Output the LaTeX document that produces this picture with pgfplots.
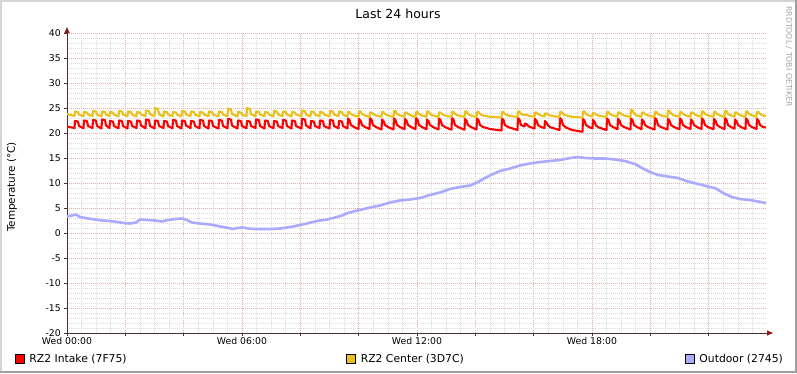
\documentclass[border=0pt]{standalone}
\usepackage{pgfplots}
\pgfplotsset{compat=1.18}
\usepackage{pgfplotstable}
\usepackage{fontspec}
\setmainfont{DejaVu Sans}
\usetikzlibrary{arrows.meta}
\definecolor{intake}{HTML}{FF0000}
\definecolor{centerc}{HTML}{EAC01C}
\definecolor{outdoor}{HTML}{AAAAFF}
\definecolor{mgrid}{HTML}{E6AFAF}
\definecolor{mingrid}{HTML}{DCDCDC}
\definecolor{axcol}{HTML}{4A3030}
\definecolor{arrowcol}{HTML}{8B1A1A}
\definecolor{frlight}{HTML}{D4D4D4}
\definecolor{frdark}{HTML}{9E9E9E}
\pgfplotstableread{
px intake center
67 21.3 23.8
74.5 21.0 23.4
75 22.4 24.3
78 22.3 24.2
79 21.4 23.7
83.5 20.95 23.35
84 22.5 24.2
87 22.4 24.1
88 21.4 23.7
92.5 21.0 23.35
93 22.6 24.4
96 22.5 24.3
97 21.4 23.7
101.5 20.9 23.3
102 22.7 24.3
105 22.6 24.2
106 21.5 23.7
109.5 21.0 23.35
110 22.4 24.2
113 22.3 24.1
114 21.4 23.7
118.5 20.95 23.3
119 22.5 24.4
122 22.4 24.3
123 21.4 23.7
127.5 20.9 23.35
128 22.4 24.3
131 22.3 24.2
132 21.4 23.7
136.5 21.0 23.3
137 22.5 24.2
140 22.4 24.1
141 21.5 23.7
145.5 20.95 23.35
146 22.7 24.5
149 22.6 24.4
150 21.4 23.8
154.5 20.9 23.35
155 22.5 25.0
158 22.4 24.8
159 21.4 23.8
163.5 21.0 23.3
164 22.4 24.3
167 22.3 24.2
168 21.4 23.7
172.5 20.95 23.35
173 22.6 24.2
176 22.5 24.1
177 21.4 23.7
181.5 20.9 23.3
182 22.5 24.4
185 22.4 24.3
186 21.5 23.7
190.5 21.0 23.35
191 22.4 24.3
194 22.3 24.2
195 21.4 23.7
199.5 20.95 23.3
200 22.6 24.2
203 22.5 24.1
204 21.4 23.7
208.5 20.9 23.35
209 22.5 24.3
212 22.4 24.2
213 21.4 23.7
218.5 20.9 23.3
219 22.6 24.3
222 22.5 24.2
223 21.4 23.7
227.5 20.95 23.35
228 22.8 24.9
231 22.7 24.7
232 21.5 23.8
237.5 20.9 23.3
238 22.5 24.2
241 22.4 24.1
242 21.4 23.7
246.5 20.95 23.35
247 22.4 25.0
250 22.3 24.8
251 21.4 23.8
255.5 21.0 23.3
256 22.7 24.3
259 22.6 24.2
260 21.4 23.7
264.5 20.9 23.35
265 22.5 24.2
268 22.4 24.1
269 21.4 23.7
273.5 20.95 23.3
274 22.4 24.4
277 22.3 24.3
278 21.4 23.7
282.5 21.0 23.35
283 22.6 24.3
286 22.5 24.2
287 21.4 23.7
291.5 20.9 23.3
292 22.5 24.2
295 22.4 24.1
296 21.4 23.7
301.5 20.9 23.35
302 22.8 24.5
305 22.7 24.4
306 21.5 23.7
310.5 20.95 23.3
311 22.4 24.3
314 22.3 24.2
315 21.4 23.7
319.5 21.0 23.35
320 22.5 24.2
323 22.4 24.1
324 21.4 23.7
329.5 20.9 23.3
330 22.6 24.4
333 22.5 24.3
334 21.4 23.7
338.5 20.95 23.35
339 22.4 24.3
342 22.3 24.2
343 21.4 23.7
347.5 20.9 23.3
348 22.9 24.2
349.5 22.6 24.2
351 21.6 23.8
354 21.2 23.5
358.5 20.8 23.25
359 22.8 24.3
360.5 22.5 24.3
362 21.6 23.8
365 21.2 23.5
369.5 20.8 23.2
370 23.0 24.1
371.5 22.7 24.1
373 21.6 23.8
376 21.2 23.5
381.5 20.7 23.25
382 22.7 24.2
383.5 22.4 24.2
385 21.6 23.8
388 21.2 23.5
393.5 20.7 23.2
394 22.9 24.4
395.5 22.6 24.4
397 21.6 23.8
400 21.2 23.5
404.5 20.75 23.25
405 22.8 24.1
406.5 22.5 24.1
408 21.6 23.8
411 21.2 23.5
415.5 20.75 23.2
416 23.0 24.2
417.5 22.7 24.2
419 21.6 23.8
422 21.2 23.5
426.5 20.75 23.25
427 22.7 24.3
428.5 22.4 24.3
430 21.6 23.8
433 21.2 23.5
438.5 20.7 23.2
439 22.9 24.1
440.5 22.6 24.1
442 21.6 23.8
445 21.2 23.5
451.5 20.65 23.2
452 23.0 24.2
453.5 22.7 24.2
455 21.6 23.8
458 21.2 23.5
464.5 20.65 23.2
465 22.8 24.3
466.5 22.5 24.3
468 21.6 23.8
471 21.2 23.5
476.5 20.7 23.2
477 22.9 24.2
478.5 22.6 24.2
480 21.6 23.8
483 21.2 23.5
490 20.8 23.25
501.5 20.5 23.1
502 22.9 24.2
503.5 22.6 24.2
505 21.6 23.8
508 21.2 23.5
517.5 20.6 23.2
518 23.0 24.3
519.5 22.7 24.3
521 21.6 23.8
524.5 21.3 23.6
525 21.9 23.7
527 21.7 23.6
529 21.3 23.4
534.5 20.9 23.25
535 22.8 24.1
536.5 22.5 24.1
538 21.6 23.8
541 21.2 23.5
544.5 21.0 23.3
545 22.4 23.9
546.5 22.1 23.9
548 21.5 23.7
551 21.1 23.45
559.5 20.6 23.2
560 23.0 24.2
561.5 22.7 24.2
563 21.6 23.8
566 21.1 23.5
572 20.6 23.25
582.5 20.25 23.1
583 22.8 24.3
584.5 22.5 24.3
586 21.6 23.8
589 21.2 23.5
592.5 20.9 23.3
593 22.6 24.0
594.5 22.3 24.0
596 21.5 23.7
599 21.1 23.45
606.5 20.6 23.2
607 22.9 24.2
608.5 22.6 24.2
610 21.6 23.8
613 21.2 23.5
617.5 20.75 23.25
618 22.8 24.1
619.5 22.5 24.1
621 21.6 23.8
624 21.2 23.5
630.5 20.7 23.2
631 22.9 24.6
632.5 22.6 24.5
634 21.6 23.9
637 21.2 23.5
641.5 20.75 23.25
642 22.7 24.1
643.5 22.4 24.1
645 21.6 23.8
648 21.2 23.5
654.5 20.7 23.2
655 23.0 24.2
656.5 22.7 24.2
658 21.6 23.8
661 21.2 23.5
667.5 20.7 23.2
668 22.8 24.5
669.5 22.5 24.4
671 21.6 23.9
674 21.2 23.5
679.5 20.75 23.25
680 22.9 24.2
681.5 22.6 24.2
683 21.6 23.8
686 21.2 23.5
690.5 20.8 23.25
691 22.7 24.1
692.5 22.4 24.1
694 21.6 23.8
697 21.2 23.5
701.5 20.8 23.2
702 22.9 24.3
703.5 22.6 24.3
705 21.6 23.8
708 21.2 23.5
713.5 20.75 23.25
714 22.8 24.2
715.5 22.5 24.2
717 21.6 23.8
720 21.2 23.5
724.5 20.8 23.2
725 23.0 24.4
726.5 22.7 24.4
728 21.6 23.8
731 21.2 23.5
734.5 20.85 23.25
735 22.7 24.1
736.5 22.4 24.1
738 21.6 23.8
741 21.2 23.5
745.5 20.8 23.2
746 22.9 24.3
747.5 22.6 24.3
749 21.6 23.8
752 21.2 23.5
756.5 20.8 23.25
757 22.8 24.2
758.5 22.5 24.2
760 21.6 23.8
763 21.2 23.5
766 21.1 23.4
}\bandtable
\pgfplotstableread{
px outdoor
67 3.3
72 3.5
76 3.7
80 3.2
88 2.9
95 2.7
102 2.5
110 2.4
117 2.2
124 2.0
130 1.9
136 2.1
140 2.7
148 2.6
155 2.5
162 2.3
168 2.6
175 2.8
182 2.9
187 2.6
192 2.1
200 1.9
210 1.7
218 1.4
226 1.1
233 0.8
238 1.0
243 1.1
248 0.9
255 0.8
262 0.8
270 0.8
280 0.9
287 1.1
293 1.3
300 1.6
307 1.9
313 2.2
320 2.5
327 2.7
335 3.1
342 3.5
348 4.0
355 4.4
362 4.7
370 5.1
380 5.5
390 6.1
400 6.5
410 6.7
420 7.0
430 7.6
440 8.1
450 8.8
460 9.2
470 9.5
478 10.2
485 11.0
492 11.7
500 12.4
510 12.9
520 13.5
530 13.9
540 14.2
550 14.4
560 14.6
570 15.0
578 15.2
585 15.0
595 14.9
605 14.9
615 14.7
625 14.4
635 13.8
642 13.0
650 12.2
658 11.6
668 11.3
678 11.0
688 10.3
698 9.8
708 9.3
716 8.9
724 7.9
732 7.2
740 6.8
750 6.6
758 6.3
766 6.0
}\outtable
\begin{document}
\begin{tikzpicture}
\fill[white] (0pt,0pt) rectangle (797pt,-373pt);
\fill[frlight] (0pt,0pt) rectangle (797pt,-2pt);
\fill[frlight] (0pt,0pt) rectangle (2pt,-373pt);
\fill[frdark] (0pt,-370.5pt) rectangle (797pt,-373pt);
\fill[frdark] (794.5pt,0pt) rectangle (797pt,-373pt);
\begin{axis}[
  at={(67pt,-333pt)}, anchor=south west,
  width=700pt, height=300pt, scale only axis,
  xmin=0, xmax=24, ymin=-20, ymax=40,
  axis lines=left,
  axis line style={draw=axcol, line width=0.8pt},
  x axis line style={-{Triangle[length=6pt,width=5pt,color=arrowcol]}, shorten >=-6pt},
  y axis line style={-{Triangle[length=6pt,width=5pt,color=arrowcol]}, shorten >=-6pt},
  xtick={0,2,...,22},
  xticklabels={Wed 00:00,,,Wed 06:00,,,Wed 12:00,,,Wed 18:00,,},
  minor xtick={0.5,1,...,23.5},
  ytick={-20,-15,...,40},
  yticklabels={-20,-15,-10,-5,0,5,10,15,20,25,30,35,40},
  minor y tick num=4,
  grid=both,
  major grid style={draw=mgrid, line width=0.6pt, dash pattern=on 1pt off 1pt},
  minor grid style={draw=mingrid, line width=0.6pt, dash pattern=on 1pt off 1pt},
  tick align=outside,
  major tick length=3pt, minor tick length=0pt,
  tick style={draw=axcol, line width=0.7pt},
  tick label style={font=\fontsize{9.3}{11}\selectfont, inner sep=0pt},
  xticklabel style={anchor=north, yshift=-1pt},
  yticklabel style={anchor=east, xshift=-3pt},
  legend columns=3,
  legend cell align=left,
  legend style={at={(axis description cs:-0.07429,-0.08667)}, anchor=west,
    draw=none, fill=none, inner sep=0pt, outer sep=0pt,
    column sep=0pt, row sep=0pt,
    nodes={inner sep=0pt, outer sep=0pt, font=\fontsize{10.8}{13}\selectfont}},
]
\addplot[intake, line width=2.1pt, line join=round,
  legend image code/.code={\draw[black, fill=intake, line width=0.7pt] (0pt,-4.5pt) rectangle (9pt,4.5pt); \path (13pt,0pt);}]
  table[x expr={(\thisrow{px}-67)*24/700}, y=intake]{\bandtable};
\addlegendentry{\makebox[317pt][l]{RZ2 Intake (7F75)}}
\addplot[centerc, line width=2.1pt, line join=round,
  legend image code/.code={\draw[black, fill=centerc, line width=0.7pt] (0pt,-4.5pt) rectangle (9pt,4.5pt); \path (13pt,0pt);}]
  table[x expr={(\thisrow{px}-67)*24/700}, y=center]{\bandtable};
\addlegendentry{\makebox[324pt][l]{RZ2 Center (3D7C)}}
\addplot[outdoor, line width=2.6pt, line join=round,
  legend image code/.code={\draw[black, fill=outdoor, line width=0.7pt] (0pt,-4.5pt) rectangle (9pt,4.5pt); \path (13pt,0pt);}]
  table[x expr={(\thisrow{px}-67)*24/700}, y=outdoor]{\outtable};
\addlegendentry{Outdoor (2745)}
\end{axis}
\node[anchor=base, font=\fontsize{12.5}{15}\selectfont] at (398pt,-18pt) {Last 24 hours};
\node[rotate=90, font=\fontsize{10.4}{12}\selectfont, inner sep=0pt] at (12pt,-187pt) {Temperature (°C)};
\node[rotate=-90, anchor=west, text=black!35, font=\fontsize{7.8}{9}\selectfont, inner sep=0pt] at (789pt,-6pt) {RRDTOOL / TOBI OETIKER};
\pgfresetboundingbox
\path (0pt,0pt) rectangle (797pt,-373pt);
\end{tikzpicture}
\end{document}
